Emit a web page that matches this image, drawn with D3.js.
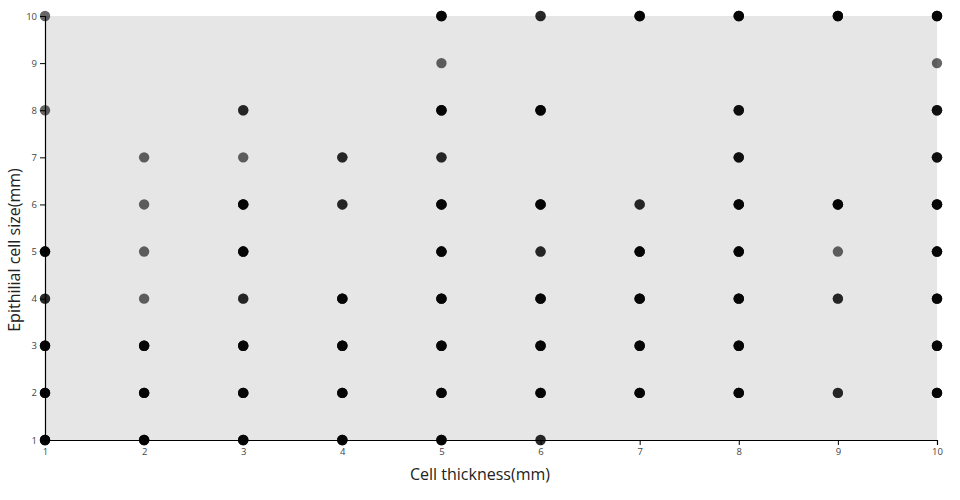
<!DOCTYPE html>
<html>
<head>
<meta charset="utf-8">
<script src="https://cdn.jsdelivr.net/npm/d3@7"></script>
<style>
  body { margin: 0; background: #fff; }
  svg { display: block; font-family: "Open Sans", "Noto Sans", sans-serif; }
</style>
</head>
<body>
<svg id="chart" width="960" height="500"></svg>
<script>
// Cell thickness (x), epithelial cell size (y), number of overlapping records
const thickness = [
  1,1,1,1,1,1,1,
  2,2,2,2,2,2,2,
  3,3,3,3,3,3,3,3,
  4,4,4,4,4,4,
  5,5,5,5,5,5,5,5,5,5,
  6,6,6,6,6,6,6,6,
  7,7,7,7,7,7,
  8,8,8,8,8,8,8,8,
  9,9,9,9,9,
  10,10,10,10,10,10,10,10,10
];
const cellSize = [
  10,8,5,4,3,2,1,
  7,6,5,4,3,2,1,
  8,7,6,5,4,3,2,1,
  7,6,4,3,2,1,
  10,9,8,7,6,5,4,3,2,1,
  10,8,6,5,4,3,2,1,
  10,6,5,4,3,2,
  10,8,7,6,5,4,3,2,
  10,6,5,4,2,
  10,9,8,7,6,5,4,3,2
];
const counts = [
  1,1,4,2,4,4,4,
  1,1,1,1,4,4,4,
  2,1,4,4,2,4,4,4,
  2,2,4,4,4,4,
  4,1,4,2,4,4,4,4,4,4,
  2,4,4,2,4,4,4,2,
  4,2,4,4,4,4,
  4,3,3,4,4,4,4,4,
  4,4,1,2,2,
  4,1,3,3,4,4,4,4,4
];
const xTicks = [1,2,3,4,5,6,7,8,9,10];
const yTicks = [1,2,3,4,5,6,7,8,9,10];

const svg = d3.select("#chart");
const margin = {left: 45, right: 23, top: 16, bottom: 60};
const W = 960, H = 500;

const x = d3.scaleLinear().domain([1, 10]).range([margin.left, W - margin.right]);
const y = d3.scaleLinear().domain([1, 10]).range([H - margin.bottom, margin.top]);

svg.append("rect")
  .attr("x", x(1)).attr("y", y(10))
  .attr("width", x(10) - x(1)).attr("height", y(1) - y(10))
  .attr("fill", "#e6e6e6");

const xAxis = svg.append("g")
  .attr("transform", `translate(0,${y(1)})`)
  .call(d3.axisBottom(x).tickValues(xTicks).tickSize(5).tickPadding(3).tickFormat(d3.format("d")));
const yAxis = svg.append("g")
  .attr("transform", `translate(${x(1)},0)`)
  .call(d3.axisLeft(y).tickValues(yTicks).tickSize(5).tickPadding(3).tickFormat(d3.format("d")));

[xAxis, yAxis].forEach(g => {
  g.select(".domain").attr("stroke", "#000").attr("stroke-width", 1.2);
  g.selectAll(".tick line").attr("stroke", "#000");
  g.selectAll(".tick text").attr("fill", "#444").style("font-size", "9.5px")
    .style("font-family", "'Open Sans', 'Noto Sans', sans-serif");
});

// expand points by count
const pts = [];
thickness.forEach((t, i) => {
  for (let k = 0; k < counts[i]; k++) pts.push({x: t, y: cellSize[i]});
});

svg.append("g").selectAll("circle")
  .data(pts)
  .join("circle")
  .attr("cx", d => x(d.x))
  .attr("cy", d => y(d.y))
  .attr("r", 5.2)
  .attr("fill", "#000")
  .attr("fill-opacity", 0.6);

svg.append("text")
  .attr("x", W / 2)
  .attr("y", 480)
  .attr("text-anchor", "middle")
  .attr("fill", "#222")
  .style("font-size", "16px")
  .text("Cell thickness(mm)");

svg.append("text")
  .attr("transform", `translate(20,${H / 2}) rotate(-90)`)
  .attr("text-anchor", "middle")
  .attr("fill", "#222")
  .style("font-size", "16px")
  .text("Epithilial cell size(mm)");
</script>
</body>
</html>
